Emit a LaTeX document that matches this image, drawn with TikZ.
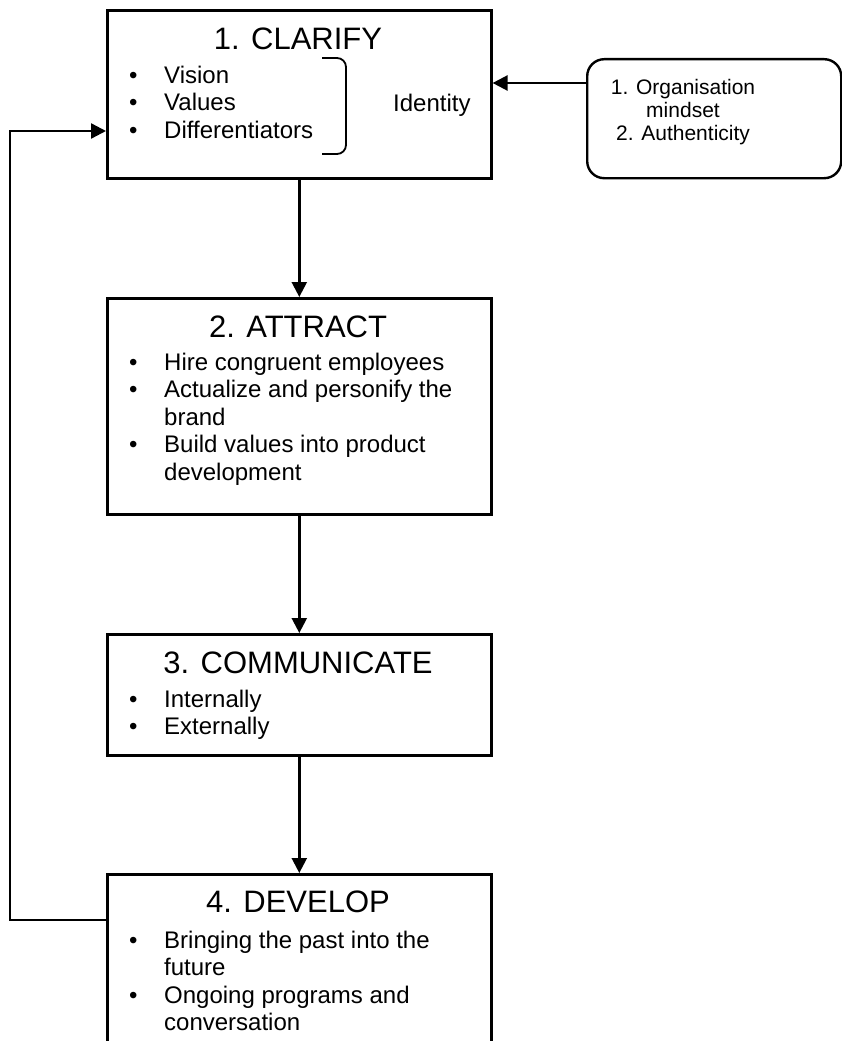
\documentclass[tikz,border=0pt]{standalone}
\usepackage{fontspec}
\setmainfont{Liberation Sans}
\usetikzlibrary{arrows.meta}

\newcommand{\bul}{\makebox[35pt][l]{\textbullet}}
\newcommand{\itm}[1]{\hbox{\bul #1}}
\newcommand{\cont}[1]{\hbox{\hskip35pt #1}}
\newcommand{\ctr}[1]{\hbox to 0pt{\hss #1\hss}}

\begin{document}
\begin{tikzpicture}[x=1pt, y=-1pt,
    stage/.style={draw, line width=2.6pt, rectangle, anchor=north west, inner sep=0pt, minimum width=384pt},
    heading/.style={anchor=base, inner sep=0pt, font=\fontsize{31}{36}\selectfont},
    points/.style={anchor=base west, inner sep=0pt, font=\fontsize{24}{27.6}\selectfont},
    flow/.style={line width=2.4pt, -{Triangle[length=15pt, width=15pt]}}]
    \useasboundingbox (0,0) rectangle (841,1041);

    % The four stages (row 1 is top)
    \node[stage, minimum height=168pt] (clarify) at (106,9) {};
    \node[stage, minimum height=216pt] (attract) at (106,297) {};
    \node[stage, minimum height=121pt] (communicate) at (106,633) {};
    \node[stage, minimum height=190pt] (develop) at (106,873) {};
    % Drivers box on the right
    \node[draw, line width=2.4pt, rounded corners=17pt, anchor=north west, inner sep=0pt,
          minimum width=254pt, minimum height=119pt] (drivers) at (586,58) {};

    % Headings
    \node[heading] (clarifytitle) at (298,49) {1. CLARIFY};
    \node[heading] (attracttitle) at (298,337) {2. ATTRACT};
    \node[heading] (communicatetitle) at (298,673) {3. COMMUNICATE};
    \node[heading] (developtitle) at (298,912) {4. DEVELOP};

    % Bullet lists (first baseline at the node's base)
    \node[points] (clarifylist) at (129,83) {\vtop{\itm{Vision}\itm{Values}\itm{Differentiators}}};
    \node[points] (attractlist) at (129,370) {\vtop{\itm{Hire congruent employees}\itm{Actualize and personify the}\cont{brand}\itm{Build values into product}\cont{development}}};
    \node[points] (communicatelist) at (129,707) {\vtop{\itm{Internally}\itm{Externally}}};
    \node[points] (developlist) at (129,948) {\vtop{\itm{Bringing the past into the}\cont{future}\itm{Ongoing programs and}\cont{conversation}}};

    % Bracket and identity
    \draw[line width=1.8pt, rounded corners=9pt] (322,58) -- (346,58) -- (346,154) -- (322,154);
    \node[anchor=base west, inner sep=0pt, font=\fontsize{24}{28}\selectfont] (identity) at (393,111) {Identity};
    \node[anchor=base, inner sep=0pt, font=\fontsize{21}{23.5}\selectfont] (driverstext) at (683,94) {\vtop{\ctr{1. Organisation}\ctr{mindset}\ctr{2. Authenticity}}};

    % Connectors
    \draw[flow] (clarify) -- (attract);
    \draw[flow] (attract) -- (communicate);
    \draw[flow] (communicate) -- (develop);
    \draw[flow] (drivers.west |- 0,83) -- (clarify.east |- 0,83);
    \coordinate (backlow) at (10,920);
    \coordinate (backhigh) at (10,131);
    \draw[flow] (develop.west |- backlow) -- (backlow) -- (backhigh) -- (clarify.west |- backhigh);
\end{tikzpicture}
\end{document}
